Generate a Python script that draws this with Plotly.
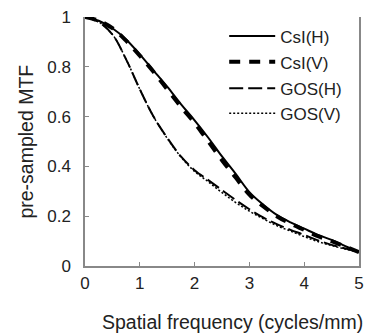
import plotly.graph_objects as go

freq = [0, 0.25, 0.5, 0.75, 1.0, 1.25, 1.5, 1.75, 2.0, 2.25, 2.5, 2.75, 3.0, 3.25, 3.5, 3.75, 4.0, 4.25, 4.5, 4.75, 5.0]
csi_h = [1.0, 0.985, 0.955, 0.91, 0.85, 0.785, 0.72, 0.65, 0.585, 0.515, 0.44, 0.37, 0.297, 0.247, 0.205, 0.175, 0.15, 0.125, 0.105, 0.08, 0.056]
csi_v = [1.0, 0.985, 0.955, 0.905, 0.845, 0.78, 0.71, 0.64, 0.575, 0.5, 0.425, 0.355, 0.287, 0.24, 0.2, 0.17, 0.145, 0.12, 0.1, 0.078, 0.056]
gos_h = [1.0, 0.98, 0.93, 0.83, 0.71, 0.6, 0.515, 0.44, 0.385, 0.345, 0.305, 0.265, 0.228, 0.195, 0.168, 0.145, 0.125, 0.103, 0.085, 0.07, 0.056]
gos_v = [1.0, 0.98, 0.93, 0.83, 0.71, 0.6, 0.513, 0.438, 0.38, 0.338, 0.295, 0.255, 0.22, 0.19, 0.162, 0.14, 0.118, 0.098, 0.082, 0.068, 0.056]
x_ticks = [0, 1, 2, 3, 4, 5]
y_ticks = [0, 0.2, 0.4, 0.6, 0.8, 1]
y_labels = ["0", "0.2", "0.4", "0.6", "0.8", "1"]
x_title = "Spatial frequency (cycles/mm)"
y_title = "pre-sampled MTF"

FONT = "Liberation Sans, Arial, sans-serif"

fig = go.Figure()
fig.add_trace(go.Scatter(x=freq, y=csi_h, mode="lines", name="CsI(H)", legend="legend",
                         line=dict(color="black", width=2, shape="spline")))
fig.add_trace(go.Scatter(x=freq, y=csi_v, mode="lines", name="CsI(V)", legend="legend2",
                         line=dict(color="black", width=4, dash="11px,9px", shape="spline")))
fig.add_trace(go.Scatter(x=freq, y=gos_h, mode="lines", name="GOS(H)", legend="legend3",
                         line=dict(color="black", width=2, dash="14px,5px", shape="spline")))
fig.add_trace(go.Scatter(x=freq, y=gos_v, mode="lines", name="GOS(V)", legend="legend4",
                         line=dict(color="black", width=1.5, dash="2px,2px", shape="spline")))

def leg(yc):
    return dict(x=0.508, y=yc, xanchor="left", yanchor="middle", bgcolor="rgba(0,0,0,0)",
                font=dict(size=17, color="#222"), itemwidth=46, borderwidth=0)

fig.update_layout(
    width=366, height=335,
    margin=dict(l=85, r=2, t=17, b=69),
    paper_bgcolor="white", plot_bgcolor="white",
    font=dict(family=FONT, size=17, color="#222"),
    showlegend=True,
    legend=leg(0.922), legend2=leg(0.818), legend3=leg(0.712), legend4=leg(0.612),
    xaxis=dict(range=[0, 5], tickvals=x_ticks, ticks="inside", ticklen=4, tickcolor="#888",
               showline=True, linecolor="#888", linewidth=1.5, showgrid=False, zeroline=False,
               mirror=False, ticklabelstandoff=1, ticklabeloverflow="allow"),
    yaxis=dict(range=[0, 1], tickvals=y_ticks, ticktext=y_labels, ticks="inside", ticklen=4, tickcolor="#888",
               showline=True, linecolor="#888", linewidth=1.5, showgrid=False, zeroline=False,
               mirror=True, ticklabelstandoff=9),
    annotations=[
        dict(text=x_title, xref="paper", yref="paper", x=(235 - 85) / 279, y=-(322 - 266) / 249,
             xanchor="center", yanchor="middle", showarrow=False, font=dict(size=19.5, color="#222")),
        dict(text=y_title, xref="paper", yref="paper", x=-(85 - 24) / 279, y=0.5, textangle=-90,
             xanchor="center", yanchor="middle", showarrow=False, font=dict(size=19.5, color="#222")),
    ],
)

fig.write_html("out.html")
